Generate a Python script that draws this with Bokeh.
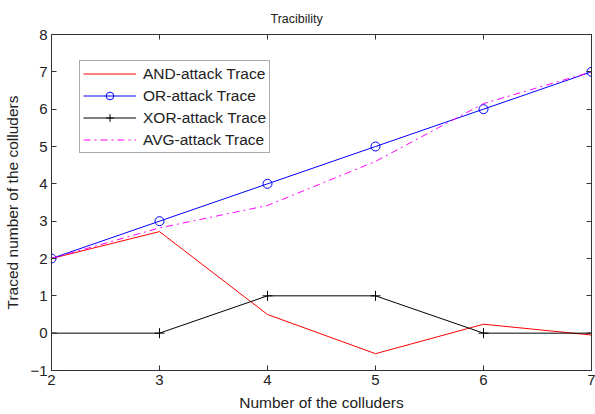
from bokeh.plotting import figure
from bokeh.models import Range1d, LinearAxis, FixedTicker, Legend, LegendItem
from bokeh.embed import file_html
from bokeh.resources import INLINE

x = [2, 3, 4, 5, 6, 7]
and_trace = [2.0, 2.72, 0.5, -0.55, 0.24, -0.05]
or_trace = [2, 3, 4, 5, 6, 7]
xor_trace = [0, 0, 1, 1, 0, 0]
avg_trace = [2.0, 2.82, 3.42, 4.6, 6.15, 7.0]
x_ticks = [2, 3, 4, 5, 6, 7]
y_ticks = [-1, 0, 1, 2, 3, 4, 5, 6, 7, 8]

FONT = "Liberation Sans"

p = figure(width=595, height=414, output_backend="svg", toolbar_location=None,
           x_range=Range1d(2, 7), y_range=Range1d(-1, 8),
           min_border_left=51, min_border_right=4, min_border_top=34, min_border_bottom=44,
           title="Tracibility")
p.title.align = "left"
p.title.offset = 219
p.title.text_font = FONT
p.title.text_font_size = "12.5px"
p.title.text_font_style = "normal"
p.title.text_color = "#222222"
p.title.standoff = 17
p.xgrid.visible = False
p.ygrid.visible = False
p.outline_line_color = "#333333"
p.outline_line_width = 1

def style_axis(ax):
    ax.major_tick_in = 5
    ax.major_tick_out = 0
    ax.minor_tick_line_color = None
    ax.axis_line_color = "#333333"
    ax.major_tick_line_color = "#333333"
    ax.major_label_text_font = FONT
    ax.major_label_text_font_size = "15px"
    ax.major_label_text_color = "#222222"
    ax.axis_label_text_font = FONT
    ax.axis_label_text_font_size = "15.5px"
    ax.axis_label_text_font_style = "normal"
    ax.axis_label_text_color = "#222222"

p.xaxis.ticker = FixedTicker(ticks=x_ticks)
p.yaxis.ticker = FixedTicker(ticks=y_ticks)
p.xaxis.axis_label = "Number of the colluders"
p.yaxis.axis_label = "Traced number of the colluders"
p.xaxis.axis_label_standoff = 6
p.yaxis.axis_label_standoff = 6
p.xaxis.major_label_standoff = 4
p.yaxis.major_label_standoff = 4
style_axis(p.xaxis[0])
style_axis(p.yaxis[0])

top = LinearAxis(ticker=FixedTicker(ticks=x_ticks),
                 major_label_overrides={t: "" for t in x_ticks})
right = LinearAxis(ticker=FixedTicker(ticks=y_ticks),
                   major_label_overrides={t: "" for t in y_ticks})
style_axis(top)
style_axis(right)
top.major_label_standoff = 0
right.major_label_standoff = 0
p.add_layout(top, "above")
p.add_layout(right, "right")

r_and = p.line(x, and_trace, line_color="#FF0000", line_width=1)
r_or = p.line(x, or_trace, line_color="#0000FF", line_width=1)
r_or_m = p.scatter(x, or_trace, marker="circle", size=9, fill_color=None,
                   line_color="#0000FF", line_width=1)
r_xor = p.line(x, xor_trace, line_color="#000000", line_width=1)
r_xor_m = p.scatter(x, xor_trace, marker="cross", size=10, line_color="#000000", line_width=1)
r_avg = p.line(x, avg_trace, line_color="#FF00FF", line_width=1, line_dash="7 4 2 4")

legend = Legend(items=[
    LegendItem(label="AND-attack Trace", renderers=[r_and]),
    LegendItem(label="OR-attack Trace", renderers=[r_or, r_or_m]),
    LegendItem(label="XOR-attack Trace", renderers=[r_xor, r_xor_m]),
    LegendItem(label="AVG-attack Trace", renderers=[r_avg]),
], location=(28, 217))
legend.label_text_font = FONT
legend.label_text_font_size = "15.5px"
legend.label_text_color = "#222222"
legend.glyph_width = 53
legend.glyph_height = 19
legend.label_height = 19
legend.spacing = 3
legend.padding = 3
legend.margin = 0
legend.label_standoff = 7
legend.border_line_color = "#555555"
legend.border_line_width = 1
legend.background_fill_color = "#ffffff"
legend.background_fill_alpha = 1
p.add_layout(legend, "center")

open("out.html", "w").write(file_html(p, INLINE))
